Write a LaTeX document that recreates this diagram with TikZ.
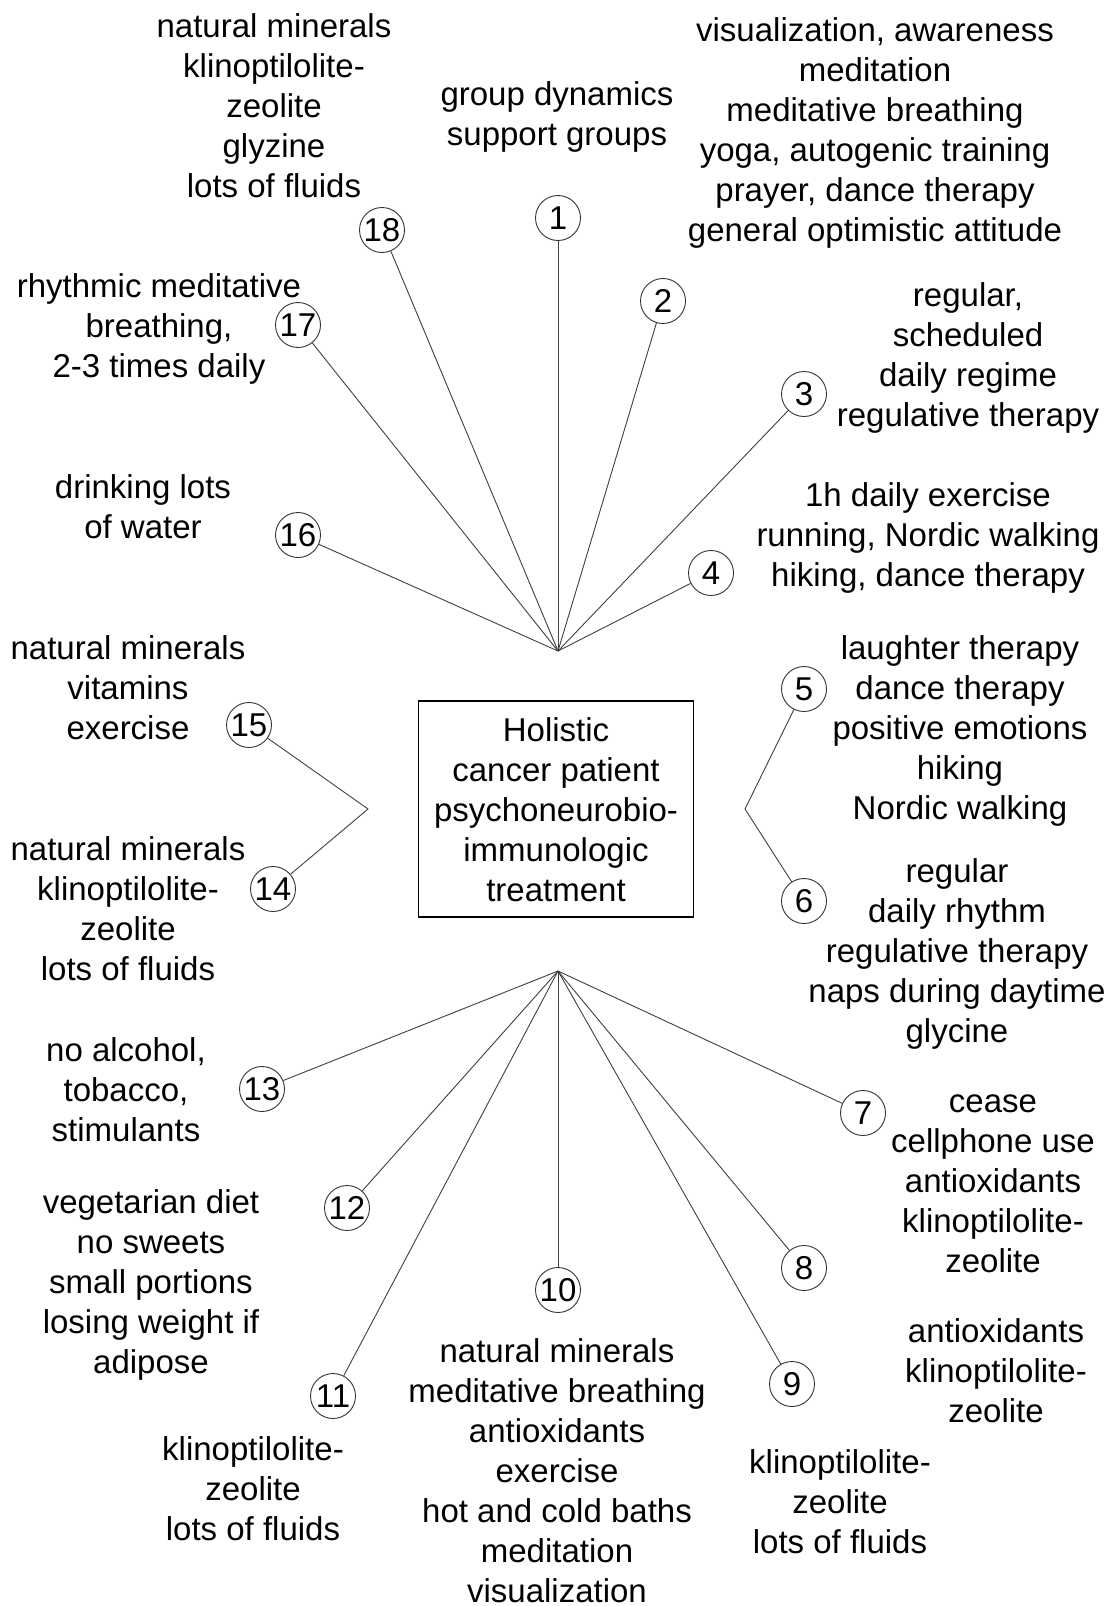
\documentclass[tikz,border=0pt]{standalone}
\usepackage{fontspec}
\setmainfont{Liberation Sans}
\begin{document}
\begin{tikzpicture}[x=1pt,y=-1pt,
  every node/.style={font=\fontsize{33}{40}\selectfont},
  txt/.style={align=center, inner sep=0pt, anchor=north, yshift=-6pt, execute at begin node=\strut},
  num/.style={circle, draw=black!80, line width=0.9pt, minimum size=45pt, inner sep=0pt},
  conn/.style={draw=black!75, line width=0.9pt},
  mainbox/.style={draw=black, line width=1.2pt, minimum width=275pt, minimum height=216pt, inner sep=0pt}]
\useasboundingbox (0,0) rectangle (1111,1606);
\fill[white] (0,0) rectangle (1111,1606);

% central box
\node[mainbox] (box) at (556,809) {};
\node[txt] (boxtxt) at (556,711) {Holistic\\cancer patient\\psychoneurobio-\\immunologic\\treatment};

% hubs
\coordinate (h1) at (558,651);
\coordinate (h2) at (558,971);
\coordinate (hr) at (745,809);
\coordinate (hl) at (368,809);

% numbered circles
\node[num] (c1) at (558,218) {1};
\node[num] (c2) at (663,301) {2};
\node[num] (c3) at (804,394) {3};
\node[num] (c4) at (711,573) {4};
\node[num] (c5) at (804,689) {5};
\node[num] (c6) at (804,901) {6};
\node[num] (c7) at (863,1113) {7};
\node[num] (c8) at (804,1268) {8};
\node[num] (c9) at (792,1384) {9};
\node[num] (c10) at (558,1290) {10};
\node[num] (c11) at (333,1396) {11};
\node[num] (c12) at (347,1208) {12};
\node[num] (c13) at (262,1089) {13};
\node[num] (c14) at (273,889) {14};
\node[num] (c15) at (249,725) {15};
\node[num] (c16) at (298,535) {16};
\node[num] (c17) at (298,325) {17};
\node[num] (c18) at (382,230) {18};

% connectors
\foreach \c in {c1,c2,c3,c4,c16,c17,c18} \draw[conn] (h1) -- (\c);
\foreach \c in {c7,c8,c9,c10,c11,c12,c13} \draw[conn] (h2) -- (\c);
\draw[conn] (c5) -- (hr) -- (c6);
\draw[conn] (c15) -- (hl) -- (c14);

% text blocks
\node[txt] (t18) at (274,7) {natural minerals\\klinoptilolite-\\zeolite\\glyzine\\lots of fluids};
\node[txt] (t1a) at (557,75) {group dynamics\\support groups};
\node[txt] (t1b) at (875,11) {visualization, awareness\\meditation\\meditative breathing\\yoga, autogenic training\\prayer, dance therapy\\general optimistic attitude};
\node[txt] (t17) at (159,267) {rhythmic meditative\\breathing,\\2-3 times daily};
\node[txt] (t3) at (968,276) {regular,\\scheduled\\daily regime\\regulative therapy};
\node[txt] (t16) at (143,468) {drinking lots\\of water};
\node[txt] (t4) at (928,476) {1h daily exercise\\running, Nordic walking\\hiking, dance therapy};
\node[txt] (t15) at (128,629) {natural minerals\\vitamins\\exercise};
\node[txt] (t5) at (960,629) {laughter therapy\\dance therapy\\positive emotions\\hiking\\Nordic walking};
\node[txt] (t14) at (128,830) {natural minerals\\klinoptilolite-\\zeolite\\lots of fluids};
\node[txt] (t6) at (957,852) {regular\\daily rhythm\\regulative therapy\\naps during daytime\\glycine};
\node[txt] (t13) at (126,1031) {no alcohol,\\tobacco,\\stimulants};
\node[txt] (t7) at (993,1089) {cease\\cellphone use\\antioxidants\\klinoptilolite-\\zeolite};
\node[txt] (t12) at (151,1183) {vegetarian diet\\no sweets\\small portions\\losing weight if\\adipose};
\node[txt] (t8) at (996,1312) {antioxidants\\klinoptilolite-\\zeolite};
\node[txt] (t10) at (557,1332) {natural minerals\\meditative breathing\\antioxidants\\exercise\\hot and cold baths\\meditation\\visualization};
\node[txt] (t11) at (253,1430) {klinoptilolite-\\zeolite\\lots of fluids};
\node[txt] (t9) at (840,1443) {klinoptilolite-\\zeolite\\lots of fluids};
\end{tikzpicture}
\end{document}
